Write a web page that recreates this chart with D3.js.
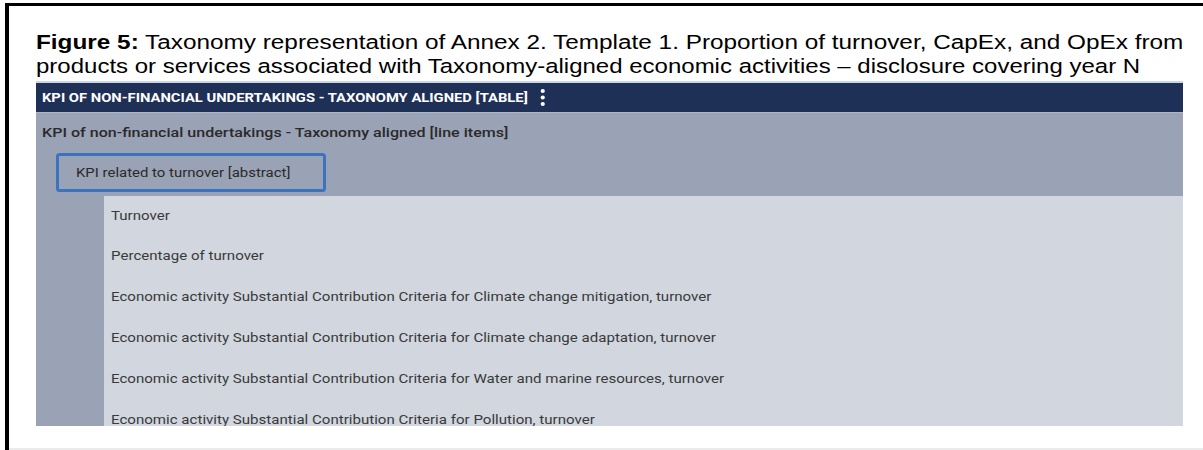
<!DOCTYPE html>
<html>
<head>
<meta charset="utf-8">
<script src="https://cdn.jsdelivr.net/npm/d3@7"></script>
<style>
    html, body { margin: 0; padding: 0; background: #fff; }
    svg { display: block; }
</style>
</head>
<body>
<div id="chart"></div>
<script>
// Caption, split into the two lines of the figure
const captionBold = 'Figure 5:';
const captionLines = [
    ' Taxonomy representation of Annex 2. Template 1. Proportion of turnover, CapEx, and OpEx from',
    'products or services associated with Taxonomy-aligned economic activities \u2013 disclosure covering year N'
];

// Table tree
const tableTitle = 'KPI OF NON-FINANCIAL UNDERTAKINGS - TAXONOMY ALIGNED [TABLE]';
const lineItemsLabel = 'KPI of non-financial undertakings - Taxonomy aligned [line items]';
const abstractLabel = 'KPI related to turnover [abstract]';
const rowLabels = [
    'Turnover',
    'Percentage of turnover',
    'Economic activity Substantial Contribution Criteria for Climate change mitigation, turnover',
    'Economic activity Substantial Contribution Criteria for Climate change adaptation, turnover',
    'Economic activity Substantial Contribution Criteria for Water and marine resources, turnover',
    'Economic activity Substantial Contribution Criteria for Pollution, turnover'
];

const width = 1203;
const height = 450;

// the screenshot is stretched sideways, so text gets a horizontal scale
const stretch = (x, y, sx) => `translate(${x},${y}) scale(${sx},1)`;

const svg = d3.select('#chart')
    .append('svg')
    .attr('width', width)
    .attr('height', height);

// outer frame: thick black top and left, faint grey bottom
svg.append('line')
    .attr('x1', 5).attr('x2', width)
    .attr('y1', 4.5).attr('y2', 4.5)
    .attr('stroke', '#000').attr('stroke-width', 3);
svg.append('line')
    .attr('x1', 7).attr('x2', 7)
    .attr('y1', 3).attr('y2', height)
    .attr('stroke', '#000').attr('stroke-width', 4);
svg.append('line')
    .attr('x1', 9).attr('x2', width)
    .attr('y1', 449).attr('y2', 449)
    .attr('stroke', '#e4e4e4').attr('stroke-width', 1.5);

// caption
const capY = d3.scaleLinear().domain([0, 1]).range([48.5, 72.5]);
const cap = svg.append('g')
    .attr('font-family', 'Arial, "Liberation Sans", sans-serif')
    .attr('font-size', 19.5)
    .attr('fill', '#000');

const line1 = cap.append('text')
    .attr('transform', stretch(36, capY(0), 1.248));
line1.append('tspan').attr('font-weight', 'bold').text(captionBold);
line1.append('tspan').text(captionLines[0]);

cap.append('text')
    .attr('transform', stretch(36, capY(1), 1.232))
    .text(captionLines[1]);

// table geometry
const tx0 = 36, tx1 = 1183;
const navy = '#1f3057';
const midGrey = '#9aa2b5';
const lightGrey = '#d1d6df';

const table = svg.append('g');

table.append('rect')
    .attr('x', tx0).attr('y', 81)
    .attr('width', tx1 - tx0).attr('height', 2)
    .attr('fill', '#c9d6ea');

table.append('rect')
    .attr('x', tx0).attr('y', 83)
    .attr('width', tx1 - tx0).attr('height', 29)
    .attr('fill', navy);

table.append('rect')
    .attr('x', tx0).attr('y', 112)
    .attr('width', tx1 - tx0).attr('height', 314)
    .attr('fill', midGrey);

table.append('rect')
    .attr('x', tx0).attr('y', 112)
    .attr('width', tx1 - tx0).attr('height', 1)
    .attr('fill', '#aeb5c5');

table.append('rect')
    .attr('x', 104).attr('y', 196)
    .attr('width', tx1 - 104).attr('height', 230)
    .attr('fill', lightGrey);

// header
const headerSx = 1.23;
const headerText = table.append('text')
    .attr('transform', stretch(42, 102, headerSx))
    .attr('font-family', 'Roboto, sans-serif')
    .attr('font-weight', 'bold')
    .attr('font-size', 12)
    .attr('fill', '#fff')
    .text(tableTitle);

const kebabX = 42 + headerText.node().getComputedTextLength() * headerSx + 15;
table.selectAll('.kebab')
    .data([0, 1, 2])
    .join('circle')
    .attr('class', 'kebab')
    .attr('cx', kebabX)
    .attr('cy', d => 91 + d * 6.5)
    .attr('r', 2.1)
    .attr('fill', '#fff');

// line items label
table.append('text')
    .attr('transform', stretch(42, 137, 1.236))
    .attr('font-family', 'Roboto, sans-serif')
    .attr('font-weight', 500)
    .attr('font-size', 13)
    .attr('fill', '#2a2a2a')
    .text(lineItemsLabel);

// abstract box
table.append('rect')
    .attr('x', 57.5).attr('y', 154.5)
    .attr('width', 267).attr('height', 36)
    .attr('rx', 2)
    .attr('fill', midGrey)
    .attr('stroke', '#3b73bd')
    .attr('stroke-width', 3);

table.append('text')
    .attr('transform', stretch(76, 177, 1.15))
    .attr('font-family', 'Roboto, sans-serif')
    .attr('font-size', 13)
    .attr('fill', '#2a2a2a')
    .text(abstractLabel);

// rows, clipped at the bottom of the panel
svg.append('clipPath')
    .attr('id', 'panel-clip')
    .append('rect')
    .attr('x', 104).attr('y', 196)
    .attr('width', tx1 - 104).attr('height', 230);

const rowY = d3.scaleLinear()
    .domain([0, rowLabels.length - 1])
    .range([219.5, 423.5]);

table.append('g')
    .attr('clip-path', 'url(#panel-clip)')
    .selectAll('text')
    .data(rowLabels)
    .join('text')
    .attr('transform', (d, i) => stretch(111, rowY(i), 1.207))
    .attr('font-family', 'Roboto, sans-serif')
    .attr('font-size', 12.5)
    .attr('fill', '#3a3a3a')
    .text(d => d);
</script>
</body>
</html>
